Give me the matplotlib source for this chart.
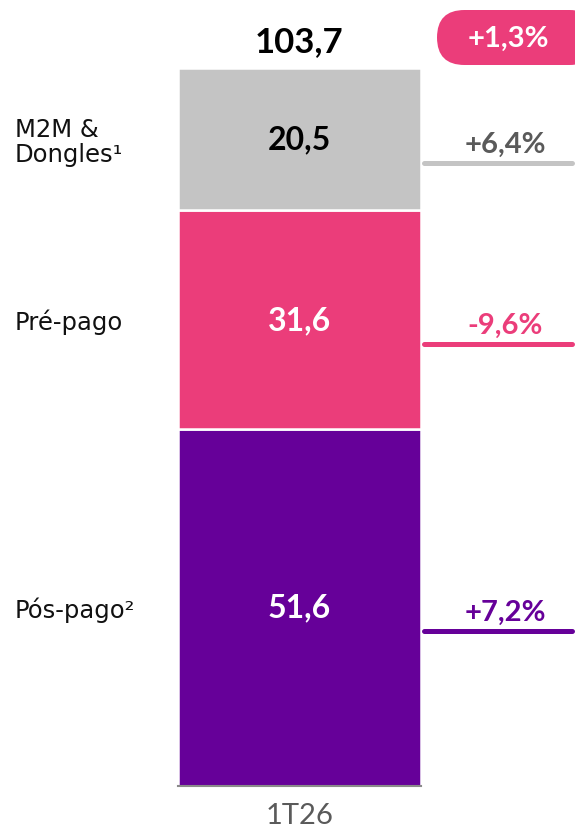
import matplotlib
matplotlib.use("Agg")
import matplotlib.pyplot as plt
from matplotlib.patches import FancyBboxPatch
from matplotlib.transforms import offset_copy

# ---- data ----
period = ["1T26"]
segments = ["Pós-pago²", "Pré-pago", "M2M &\nDongles¹"]
values = [51.6, 31.6, 20.5]
value_labels = ["51,6", "31,6", "20,5"]
growth_labels = ["+7,2%", "-9,6%", "+6,4%"]
total_label = "103,7"
total_growth = "+1,3%"

# ---- style ----
seg_colors = ["#660099", "#EB3D7A", "#C4C4C4"]
val_text_colors = ["white", "white", "black"]
growth_colors = ["#660099", "#EB3D7A", "#5A5A5A"]
line_colors = ["#660099", "#EB3D7A", "#C4C4C4"]
FONT = ["Lato", "DejaVu Sans"]
LABEL_FONT = ["DejaVu Sans"]
plt.rcParams["font.family"] = FONT

W, H = 575, 832
fig = plt.figure(figsize=(W / 100, H / 100), dpi=100)
bar_bottom_px = 46
px_per_unit = 6.92
ax = fig.add_axes([0, bar_bottom_px / H, 1, 1 - bar_bottom_px / H])
ax.set_ylim(0, (H - bar_bottom_px) / px_per_unit)
bar_center_px, bar_w_px = 299.5, 243
ax.set_xlim(-bar_center_px / bar_w_px, (W - bar_center_px) / bar_w_px)

for s in ["top", "left", "right"]:
    ax.spines[s].set_visible(False)
ax.spines["bottom"].set_bounds(-0.5, 0.5)
ax.spines["bottom"].set_color("#8A8A8A")
ax.spines["bottom"].set_linewidth(1.5)
ax.set_yticks([])
ax.set_xticks([0], labels=period)
ax.tick_params(axis="x", length=0, pad=12, labelsize=21, labelcolor="#5A5A5A")

x_pct = (505 - bar_center_px) / bar_w_px
x_line0 = (424 - bar_center_px) / bar_w_px
x_line1 = (572 - bar_center_px) / bar_w_px
x_lab = (15 - bar_center_px) / bar_w_px

line_tr = offset_copy(ax.transData, fig=fig, x=0, y=-17.3, units="points")

bottom = 0.0
for i, v in enumerate(values):
    ax.bar(0, v, width=1.0, bottom=bottom, color=seg_colors[i],
           edgecolor="white", linewidth=1.8, zorder=2)
    c = bottom + v / 2
    ax.annotate(value_labels[i], (0, c), xytext=(0, -7.4), textcoords="offset points",
                ha="center", va="baseline", fontsize=23, fontweight="bold",
                color=val_text_colors[i], zorder=3)
    ax.annotate(growth_labels[i], (x_pct, c), xytext=(0, -10), textcoords="offset points",
                ha="center", va="baseline", fontsize=21, fontweight="bold",
                color=growth_colors[i])
    ax.plot([x_line0, x_line1], [c, c], transform=line_tr, color=line_colors[i],
            lw=3.6, solid_capstyle="round", clip_on=False)
    ax.annotate(segments[i], (x_lab, c), xytext=(0, -2), textcoords="offset points",
                ha="left", va="center", fontsize=17.5, color="#111111",
                linespacing=1.05, family=LABEL_FONT)
    bottom += v

ax.annotate(total_label, (0, bottom), xytext=(0, 11.5), textcoords="offset points",
            ha="center", va="baseline", fontsize=25, fontweight="bold", color="black")

# pill with total growth
pill = FancyBboxPatch((4.37, (H - 65) / 100), 1.6, 0.55,
                      boxstyle="round,pad=0,rounding_size=0.275",
                      transform=fig.dpi_scale_trans, facecolor="#EB3D7A",
                      edgecolor="none")
fig.patches.append(pill)
fig.text(508 / W, 1 - 47 / H, total_growth, ha="center", va="baseline",
         fontsize=21, fontweight="bold", color="white")

fig.savefig("out.png", dpi=100)
